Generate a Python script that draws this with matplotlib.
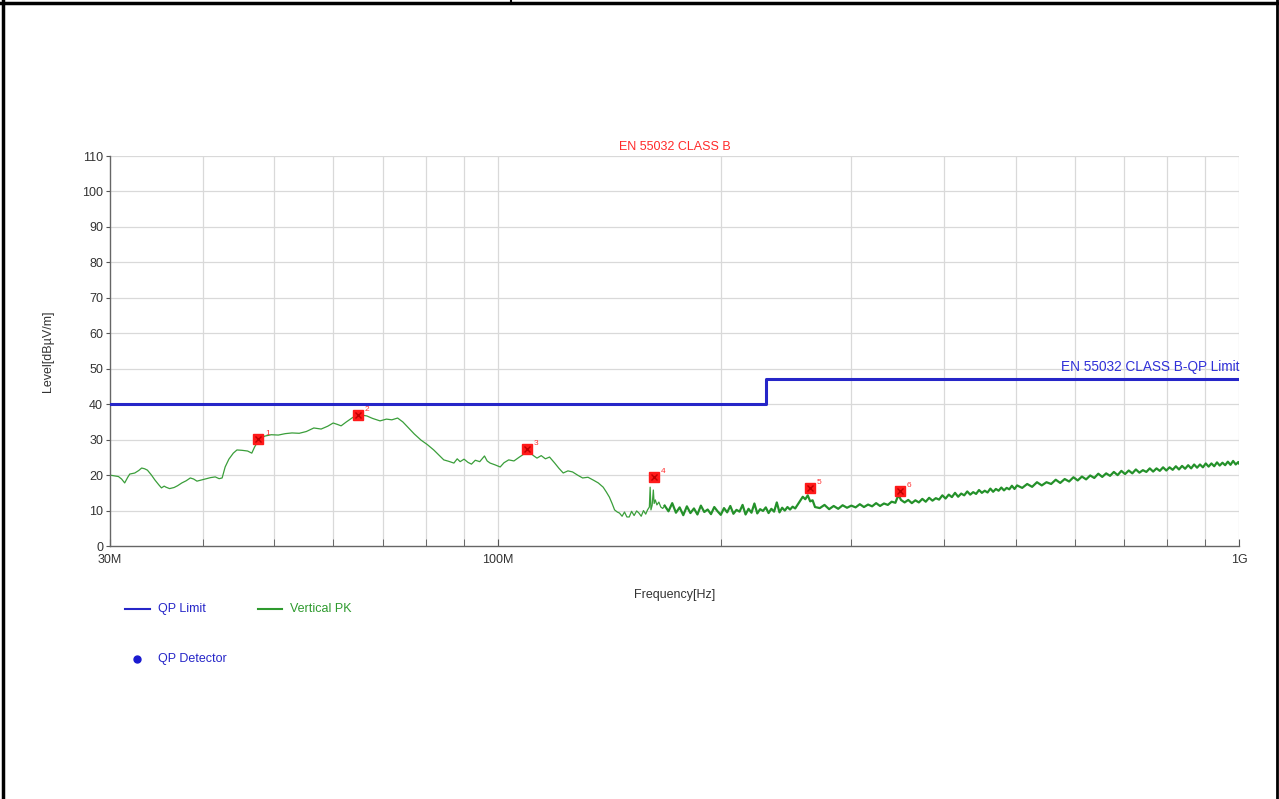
import matplotlib.pyplot as plt
from matplotlib.ticker import FixedLocator, NullFormatter
from matplotlib.lines import Line2D

plt.rcParams['font.family'] = ['Liberation Sans Narrow', 'Liberation Sans', 'DejaVu Sans']

# Limite QP (EN 55032 clase B)
limit_freq = [30, 230, 230, 1000]
limit_level = [40, 40, 47, 47]

# Traza Vertical PK, tramo bajo (MHz, dBuV/m)
pk_freq_low = [30.0, 30.4, 30.8, 31.1, 31.4, 31.7, 31.9, 32.4, 32.8, 33.1, 33.4, 33.7,
               34.1, 34.5, 34.9, 35.2, 35.5, 35.7, 36.1, 36.6, 37.0, 37.5, 38.0, 38.5,
               38.9, 39.3, 39.8, 40.3, 41.0, 41.6, 42.1, 42.5, 42.9, 43.4, 44.0, 44.5,
               45.2, 46.0, 46.6, 47.0, 47.6, 48.5, 49.5, 50.6, 51.7, 52.8, 54.0, 55.2,
               56.5, 57.8, 59.0, 60.0, 60.8, 61.5, 62.5, 63.6, 64.8, 65.7, 66.6, 67.8,
               69.4, 70.8, 72.0, 73.3, 74.5, 75.6, 77.2, 78.8, 80.4, 82.0, 83.4, 84.6,
               85.9, 87.3, 88.2, 89.0, 90.1, 91.2, 92.2, 93.3, 94.6, 96.0, 96.8, 97.7,
               99.2, 100.8, 102.0, 103.5, 105.2, 107.0, 108.6, 110.3, 111.6, 113.0, 114.5,
               116.0, 117.5, 119.4, 121.0, 122.6, 124.4, 126.2, 128.2, 130.2, 132.4, 134.6,
               136.7, 138.8, 140.2, 141.5, 142.7, 143.8, 145.0, 146.0, 147.2, 148.3, 149.4,
               150.5, 151.6, 152.8, 154.0, 155.1, 156.2, 157.3, 158.4, 159.3, 160.2, 160.6,
               161.0, 161.6, 162.2, 162.6, 163.2, 164.0, 165.0, 166.0, 167.0, 168.0]
pk_level_low = [20.0, 19.8, 19.6, 18.9, 17.8, 19.4, 20.3, 20.6, 21.3, 22.0, 21.8, 21.4,
                20.1, 18.6, 17.3, 16.4, 16.9, 16.6, 16.2, 16.5, 17.0, 17.8, 18.4, 19.2,
                18.9, 18.3, 18.6, 18.9, 19.3, 19.5, 19.0, 19.2, 22.3, 24.5, 26.2, 27.1,
                27.0, 26.8, 26.2, 27.9, 29.9, 31.0, 31.4, 31.3, 31.7, 31.9, 31.8, 32.3,
                33.3, 33.0, 33.8, 34.7, 34.3, 33.9, 35.0, 36.1, 37.2, 36.9, 36.7, 36.0,
                35.3, 35.8, 35.6, 36.1, 35.0, 33.6, 31.6, 29.9, 28.6, 27.1, 25.6, 24.3,
                23.9, 23.4, 24.6, 23.8, 24.5, 23.6, 23.1, 24.2, 23.8, 25.4, 24.0, 23.4,
                22.9, 22.3, 23.5, 24.3, 24.0, 25.1, 26.0, 27.1, 25.6, 24.8, 25.5, 24.6,
                25.1, 23.4, 21.9, 20.6, 21.2, 20.9, 20.0, 19.2, 19.4, 18.6, 17.8, 16.6,
                15.2, 13.8, 12.0, 10.2, 9.6, 9.3, 8.4, 9.6, 8.2, 8.2, 9.8, 8.6, 9.9, 9.3,
                8.4, 10.0, 9.0, 10.2, 11.0, 16.6, 10.2, 11.5, 15.8, 12.0, 13.0, 11.6, 12.4,
                11.0, 10.6, 11.4]

# Traza Vertical PK, tramo alto (MHz, dBuV/m)
pk_freq_high = [168, 170, 172, 174, 176, 178, 180, 182, 184, 186, 188, 190, 192, 194, 196,
                198, 200, 202, 204, 206, 208, 210, 212, 214, 216, 218, 220, 222, 224, 226,
                228, 230, 232, 234, 236, 238, 240, 242, 244, 246, 248, 250, 252, 256, 258,
                260, 262, 264, 266, 268, 272, 276, 280, 284, 288, 292, 296, 300, 304, 308,
                312, 316, 320, 324, 328, 332, 336, 340, 344, 346, 348, 350, 354, 358, 362,
                366, 370, 374, 378, 382, 386, 390, 394, 398, 402, 406, 410, 414, 418, 422,
                426, 430, 434, 438, 442, 446, 450, 454, 458, 462, 466, 470, 474, 478, 482,
                486, 490, 494, 498, 502, 510, 518, 526, 534, 542, 550, 558, 566, 574, 582,
                590, 598, 606, 614, 622, 630, 638, 646, 654, 662, 670, 678, 686, 694, 702,
                710, 718, 726, 734, 742, 750, 758, 766, 774, 782, 790, 798, 806, 814, 822,
                830, 838, 846, 854, 862, 870, 878, 886, 894, 902, 910, 918, 926, 934, 942,
                950, 958, 966, 974, 982, 990, 998, 1000]
pk_level_high = [11.4, 9.8, 12.1, 9.4, 10.9, 8.7, 11.2, 9.3, 10.6, 8.9, 11.4, 9.6, 10.3, 9.0,
                 11.0, 9.8, 8.8, 10.7, 9.5, 11.3, 9.1, 10.2, 9.7, 11.6, 8.9, 10.5, 9.4,
                 12.0, 9.2, 10.4, 9.9, 10.9, 9.3, 10.5, 9.7, 12.3, 9.5, 10.8, 10.0, 11.0,
                 10.3, 11.1, 10.6, 12.8, 13.9, 13.2, 14.3, 12.6, 12.9, 11.0, 10.7, 11.6,
                 10.4, 11.3, 10.5, 11.5, 10.8, 11.4, 10.9, 11.8, 11.0, 11.7, 11.2, 12.1,
                 11.3, 12.0, 11.6, 12.5, 12.2, 13.6, 14.1, 13.0, 12.3, 13.0, 12.1, 12.9,
                 12.3, 13.3, 12.5, 13.6, 12.8, 13.5, 13.1, 14.3, 13.4, 14.5, 13.8, 15.0,
                 13.9, 14.8, 14.3, 15.4, 14.5, 15.2, 14.7, 15.8, 15.0, 15.6, 15.1, 16.2,
                 15.3, 16.1, 15.6, 16.5, 15.7, 16.4, 16.0, 17.0, 16.1, 17.1, 16.4, 17.5,
                 16.7, 18.0, 17.1, 18.0, 17.5, 18.7, 17.8, 18.9, 18.2, 19.4, 18.5, 19.6,
                 18.8, 19.9, 19.2, 20.4, 19.5, 20.5, 19.8, 20.9, 20.0, 21.2, 20.3, 21.3,
                 20.5, 21.6, 20.7, 21.4, 20.9, 21.9, 21.0, 21.9, 21.2, 22.2, 21.3, 22.2,
                 21.5, 22.5, 21.6, 22.6, 21.8, 22.8, 21.9, 23.0, 22.1, 23.0, 22.2, 23.3,
                 22.4, 23.3, 22.5, 23.6, 22.7, 23.5, 22.8, 23.8, 22.9, 24.0, 23.0, 23.7,
                 23.3]

# Marcadores QP (MHz, dBuV/m)
marker_freq = [47.5, 64.8, 109.5, 162.5, 263.9, 348.9]
marker_level = [30.2, 36.9, 27.4, 19.5, 16.4, 15.5]
marker_label = ['1', '2', '3', '4', '5', '6']

fig = plt.figure(figsize=(12.79, 7.99), dpi=100)
ax = fig.add_axes([0.0860, 0.3166, 0.8827, 0.4881])

ax.set_xscale('log')
ax.set_xlim(30, 1000)
ax.set_ylim(0, 110)

grid_x = [40, 50, 60, 70, 80, 90, 100, 200, 300, 400, 500, 600, 700, 800, 900, 1000]
for gx in grid_x:
    ax.axvline(gx, color='#d9d9d9', lw=0.9, zorder=0)
for gy in range(10, 111, 10):
    ax.axhline(gy, color='#d9d9d9', lw=0.9, zorder=0)

ax.plot(pk_freq_low, pk_level_low, color='#3a9e3a', lw=0.9, zorder=2)
ax.plot(pk_freq_high, pk_level_high, color='#24912a', lw=1.6, zorder=2)
ax.plot(limit_freq, limit_level, color='#2626c8', lw=2.2, zorder=3)

ax.plot(marker_freq, marker_level, 's', color='#ff1a1a', ms=7, zorder=4)
ax.plot(marker_freq, marker_level, 'x', color='#c00000', ms=4, mew=1.0, zorder=5)
for f, l, t in zip(marker_freq, marker_level, marker_label):
    ax.annotate(t, (f, l), xytext=(5, 3), textcoords='offset points',
                fontsize=6, color='#ff3030')

ax.xaxis.set_major_locator(FixedLocator([30, 100, 1000]))
ax.xaxis.set_minor_locator(FixedLocator([40, 50, 60, 70, 80, 90, 200, 300, 400,
                                         500, 600, 700, 800, 900]))
ax.xaxis.set_minor_formatter(NullFormatter())
ax.set_xticklabels(['30M', '100M', '1G'])
ax.set_yticks(range(0, 111, 10))

ax.tick_params(axis='x', which='both', direction='in', length=5, color='#555555',
               labelsize=9, labelcolor='#333333', pad=6)
ax.tick_params(axis='y', direction='out', length=3, color='#555555',
               labelsize=9, labelcolor='#333333', pad=2)

for s in ['top', 'right']:
    ax.spines[s].set_visible(False)
for s in ['left', 'bottom']:
    ax.spines[s].set_color('#666666')
    ax.spines[s].set_linewidth(1.0)

ax.set_title('EN 55032 CLASS B', color='#ff2a2a', fontsize=9, pad=4)
ax.text(1000, 48.5, 'EN 55032 CLASS B-QP Limit', color='#3030d8', fontsize=9.8,
        ha='right', va='bottom')
ax.set_ylabel('Level[dBµV/m]', fontsize=9, color='#333333', labelpad=20)
ax.set_xlabel('Frequency[Hz]', fontsize=9, color='#333333', labelpad=16)

# Leyenda debajo del grafico
fig.add_artist(Line2D([125 / 1279, 150 / 1279], [1 - 609 / 799] * 2, color='#2626c8', lw=1.5))
fig.text(158 / 1279, 1 - 609 / 799, 'QP Limit', color='#2626c8', fontsize=9, va='center')
fig.add_artist(Line2D([258 / 1279, 282 / 1279], [1 - 609 / 799] * 2, color='#2e9a2e', lw=1.5))
fig.text(290 / 1279, 1 - 609 / 799, 'Vertical PK', color='#2e9a2e', fontsize=9, va='center')
fig.add_artist(Line2D([137 / 1279], [1 - 659 / 799], marker='o', color='#1a1ad0', ms=5))
fig.text(158 / 1279, 1 - 659 / 799, 'QP Detector', color='#2626c8', fontsize=9, va='center')

# Marco de la pagina
fig.add_artist(Line2D([3 / 1279, 3 / 1279], [0, 1], color='black', lw=2.5))
fig.add_artist(Line2D([1277 / 1279, 1277 / 1279], [0, 1], color='black', lw=2.0))
fig.add_artist(Line2D([0, 1], [1 - 3 / 799, 1 - 3 / 799], color='black', lw=2.5))
fig.add_artist(Line2D([511 / 1279, 511 / 1279], [1 - 3 / 799, 1], color='black', lw=1.5))

plt.savefig('out.png', dpi=100)
